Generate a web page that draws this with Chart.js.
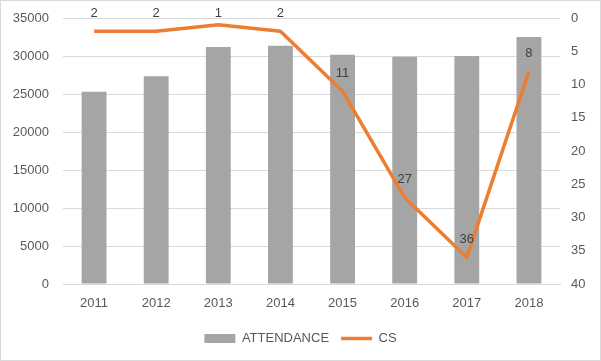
<!DOCTYPE html>
<html><head><meta charset="utf-8">
<script src="https://cdn.jsdelivr.net/npm/chart.js@4/dist/chart.umd.min.js"></script>
<style>html,body{margin:0;padding:0;background:#fff}canvas{display:block}</style>
</head><body>
<canvas id="c" width="601" height="361"></canvas>
<script>
const years = ["2011","2012","2013","2014","2015","2016","2017","2018"];
const attendance = [25300, 27350, 31200, 31350, 30150, 29900, 30000, 32500];
const cs = [2, 2, 1, 2, 11, 27, 36, 8];
const leftTicks = [0, 5000, 10000, 15000, 20000, 25000, 30000, 35000];
const rightTicks = [0, 5, 10, 15, 20, 25, 30, 35, 40];

const FONT = "'Liberation Sans', Arial, sans-serif";
const TXT = '#595959';

const borderPlugin = {
  id: 'border',
  beforeDraw(chart) {
    const c = chart.ctx;
    c.save();
    c.fillStyle = '#fff';
    c.fillRect(0, 0, chart.width, chart.height);
    c.strokeStyle = '#d9d9d9';
    c.lineWidth = 1;
    c.strokeRect(0.5, 0.5, chart.width - 1, chart.height - 1);
    c.restore();
  }
};
const labelPlugin = {
  id: 'lineLabels',
  afterDatasetsDraw(chart) {
    const meta = chart.getDatasetMeta(1);
    const c = chart.ctx;
    c.save();
    c.font = '13px ' + FONT;
    c.fillStyle = '#404040';
    c.textAlign = 'center';
    c.textBaseline = 'middle';
    meta.data.forEach((pt, i) => {
      c.fillText(String(cs[i]), pt.x, Math.max(pt.y - 18, 13));
    });
    c.restore();
  }
};

new Chart(document.getElementById('c'), {
  data: {
    labels: years,
    datasets: [
      { type: 'bar', label: 'ATTENDANCE', data: attendance, backgroundColor: '#a5a5a5',
        yAxisID: 'y', barPercentage: 0.4, categoryPercentage: 1.0, order: 2,
        pointStyle: 'rect' },
      { type: 'line', label: 'CS', data: cs, borderColor: '#ed7d31', backgroundColor: '#ed7d31',
        borderWidth: 3.5, pointRadius: 0, yAxisID: 'y1', order: 1, tension: 0,
        pointStyle: 'line', borderJoinStyle: 'round' }
    ]
  },
  options: {
    responsive: false,
    animation: false,
    layout: { padding: { top: 18, left: 0, right: 0, bottom: 6 } },
    plugins: {
      tooltip: { enabled: false },
      legend: {
        position: 'bottom',
        labels: {
          usePointStyle: true, pointStyleWidth: 31, boxHeight: 9,
          color: TXT, font: { family: FONT, size: 13 }, padding: 12,
          sort: (a, b) => a.datasetIndex - b.datasetIndex
        }
      }
    },
    scales: {
      x: {
        afterFit(s) { s.height = 36; s.paddingLeft = 0; s.paddingRight = 0; },
        grid: { display: false, drawTicks: false },
        border: { color: '#d9d9d9' },
        ticks: { color: TXT, font: { family: FONT, size: 13 }, padding: 12 }
      },
      y: {
        position: 'left', min: 0, max: 35000,
        afterBuildTicks(s) { s.ticks = leftTicks.map(v => ({ value: v })); },
        afterFit(s) { s.width = 63; s.paddingTop = 0; s.paddingBottom = 0; },
        grid: { color: '#d9d9d9', drawTicks: false },
        border: { display: false },
        ticks: { color: TXT, font: { family: FONT, size: 13 }, padding: 14,
                 callback: v => String(v) }
      },
      y1: {
        position: 'right', min: 0, max: 40, reverse: true,
        afterBuildTicks(s) { s.ticks = rightTicks.map(v => ({ value: v })); },
        afterFit(s) { s.width = 41; s.paddingTop = 0; s.paddingBottom = 0; },
        grid: { display: false, drawTicks: false },
        border: { display: false },
        ticks: { color: TXT, font: { family: FONT, size: 13 }, padding: 11,
                 callback: v => String(v) }
      }
    }
  },
  plugins: [borderPlugin, labelPlugin]
});
</script>
</body></html>
